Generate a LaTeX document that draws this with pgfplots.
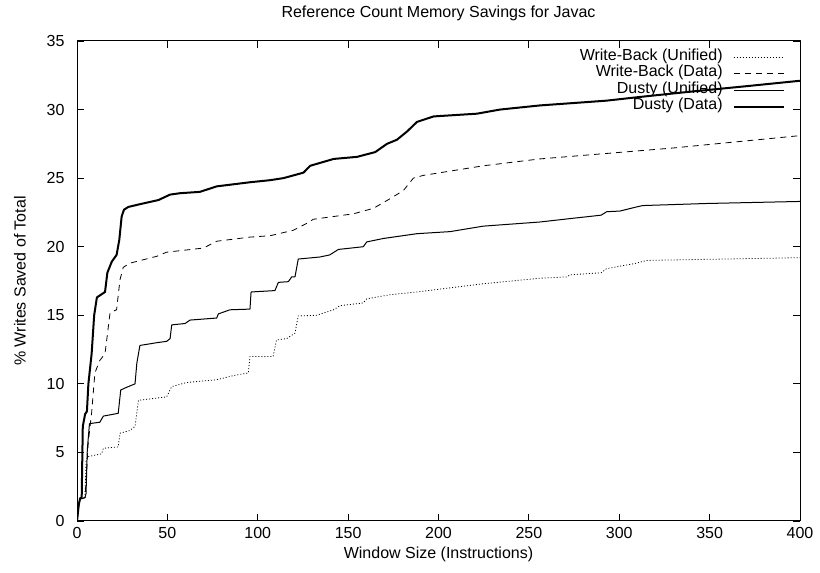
\documentclass[border=0pt]{standalone}
\usepackage{fontspec}
\setmainfont{Liberation Sans}
\usepackage{pgfplots}
\pgfplotsset{compat=1.18}

\pgfplotstableread{
x y
0 0
1.0 1.2
1.7 1.65
2.6 1.7
3.2 6.9
4.5 7.8
5.5 8.0
6.3 10.0
8.1 12.2
9.5 15.0
11.0 16.3
15.5 16.7
16.8 18.1
19.2 18.9
21.9 19.4
23.4 20.5
24.7 22.2
26.0 22.7
28.4 22.9
34.8 23.1
45.0 23.4
51.5 23.8
57.0 23.9
68.0 24.0
77.3 24.4
95.7 24.7
106.8 24.85
114.2 25.0
125.3 25.4
129.0 25.9
142.0 26.4
154.9 26.55
165.0 26.9
171.5 27.5
177.0 27.8
182.6 28.4
188.1 29.1
197.3 29.5
221.3 29.7
234.0 30.0
256.0 30.3
293.0 30.65
310.0 30.9
339.0 31.3
370.0 31.7
400.0 32.1
}\dustydata

\pgfplotstableread{
x y
0 0
1.0 1.2
1.7 1.6
4.4 1.7
4.5 1.8
6.2 5.7
8.1 7.9
9.9 10.8
12.6 11.7
15.5 12.2
18.3 15.2
21.9 15.4
23.8 17.6
25.6 18.5
29.3 18.8
44.1 19.3
49.6 19.6
69.9 19.9
77.3 20.4
95.7 20.7
106.8 20.8
119.7 21.2
127.1 21.7
130.7 22.0
153.0 22.4
164.0 22.8
173.2 23.5
180.6 24.1
186.1 25.0
191.6 25.2
224.8 25.9
256.0 26.4
330.0 27.2
400.0 28.1
}\wbdata

\pgfplotstableread{
x y
0 0
1.0 1.2
1.7 1.6
4.4 1.7
5.0 2.0
5.7 5.2
6.9 7.1
12.6 7.2
14.6 7.65
22.8 7.85
24.2 9.55
26.6 9.7
32.1 10.0
33.1 11.5
34.8 12.8
44.1 13.0
49.6 13.1
51.5 13.3
52.4 14.3
59.8 14.4
62.5 14.65
77.3 14.8
78.2 15.1
84.6 15.4
95.7 15.45
96.3 16.7
109.5 16.8
111.4 17.4
116.9 17.45
118.8 17.8
120.6 17.8
122.4 19.1
134.4 19.25
139.8 19.4
144.6 19.8
158.4 20.0
160.3 20.35
169.5 20.6
188.1 20.95
206.4 21.1
224.8 21.5
256.0 21.8
272.8 22.05
290.0 22.3
293.0 22.55
300.4 22.6
309.6 22.9
313.0 23.0
348.0 23.15
400.0 23.3
}\dustyunified

\pgfplotstableread{
x y
0 0
1.0 1.2
1.7 1.6
4.4 1.7
5.0 4.4
6.2 4.7
13.6 4.9
14.6 5.3
22.8 5.4
23.8 6.4
29.3 6.6
32.1 6.9
34.0 8.8
49.6 9.05
52.4 9.8
60.7 10.1
77.3 10.3
86.5 10.6
94.8 10.8
95.7 12.0
108.5 12.0
110.4 13.2
116.0 13.3
120.6 13.7
122.4 14.95
132.6 15.0
141.9 15.4
145.5 15.7
158.4 15.9
160.3 16.2
173.2 16.5
188.1 16.7
206.4 17.0
224.8 17.3
256.0 17.7
271.0 17.8
272.8 17.95
290.0 18.1
293.0 18.4
309.6 18.8
315.0 19.0
400.0 19.2
}\wbunified

\begin{document}
\begin{tikzpicture}
\begin{axis}[
  name=main,
  scale only axis,
  width=723pt, height=480pt,
  xmin=0, xmax=400, ymin=0, ymax=35,
  xtick={0,50,...,400}, ytick={0,5,...,35},
  tick align=inside, tick pos=both,
  major tick length=7pt,
  axis line style={line width=1pt},
  every tick/.style={line width=0.8pt, black},
  font=\fontsize{16}{19}\selectfont,
  /pgf/number format/assume math mode=true,
  xticklabel style={yshift=-3pt},
  yticklabel style={xshift=-9pt},
  title={Reference Count Memory Savings for Javac},
  title style={at={(axis description cs:0.5,1.0604)}, anchor=center, yshift=-7pt},
  xlabel={Window Size (Instructions)},
  xlabel style={at={(axis description cs:0.5,-0.065)}, anchor=center, yshift=-2pt},
  ylabel={\% Writes Saved of Total},
  ylabel style={at={(axis description cs:-0.079,0.5)}, anchor=center},
  legend plot pos=right,
  legend cell align=right,
  legend image code/.code={\draw[#1] (0pt,0pt) -- (50pt,0pt);},
  legend style={at={(axis description cs:0.979,0.984)}, anchor=north east,
    draw=none, fill=none, inner sep=0pt, row sep=0pt, column sep=10pt,
    nodes={inner sep=0pt, text height=11.5pt, text depth=5pt}},
  line join=round,
]
\addplot[black, line width=0.8pt, dash pattern=on 1pt off 2pt] table {\wbunified};
\addplot[black, line width=0.8pt, dash pattern=on 6pt off 5pt] table {\wbdata};
\addplot[black, line width=1pt] table {\dustyunified};
\addplot[black, line width=2pt] table {\dustydata};
\legend{Write-Back (Unified), Write-Back (Data), Dusty (Unified), Dusty (Data)}
\end{axis}
\path (main.south west) ++(-77pt,-52pt) coordinate (bbl);
\path (main.north east) ++(20pt,41pt) coordinate (btr);
\pgfresetboundingbox
\useasboundingbox (bbl) rectangle (btr);
\end{tikzpicture}
\end{document}
